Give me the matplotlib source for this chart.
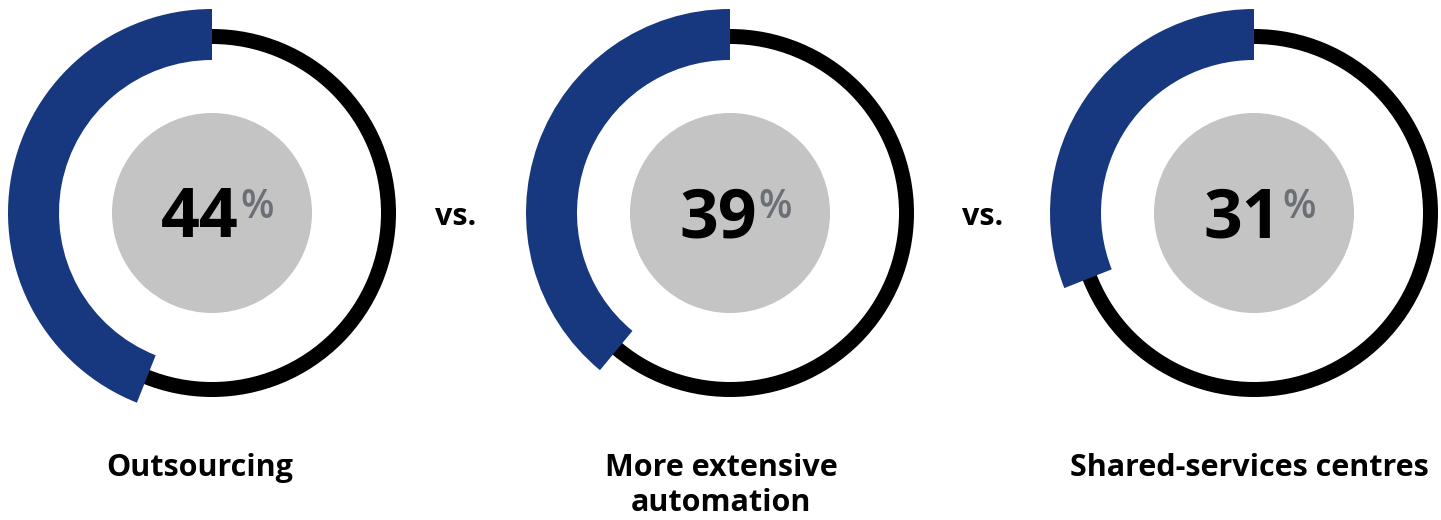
import matplotlib.pyplot as plt
from matplotlib.patches import Wedge, Circle

# --- DATA ---
categories = ["Outsourcing", "More extensive\nautomation", "Shared-services centres"]
shares = [44, 39, 31]
separator = "vs."

# --- STYLE ---
BLUE = "#17387e"
GREY = "#c4c4c4"
PCT_GREY = "#6b6f76"
FONT = "Open Sans"

W, H = 1441, 520
fig = plt.figure(figsize=(W / 100, H / 100), dpi=100)
ax = fig.add_axes([0, 0, 1, 1])
ax.set_xlim(0, W)
ax.set_ylim(H, 0)
ax.set_aspect("equal")
ax.axis("off")

centres_x = [212, 730, 1254]
cy = 213
label_x = [200, 721, 1249]

renderer = fig.canvas.get_renderer()

for cx, lx, name, pct in zip(centres_x, label_x, categories, shares):
    # thin black track
    ax.add_patch(Wedge((cx, cy), 184, 0, 360, width=15, facecolor="black", edgecolor="none"))
    # thick blue arc, starting at 12 o'clock and running counter-clockwise
    # (y axis is inverted, so angles are mirrored)
    ax.add_patch(Wedge((cx, cy), 204, 270 - pct * 3.6, 270, width=51,
                       facecolor=BLUE, edgecolor="none"))
    # grey disc in the middle
    ax.add_patch(Circle((cx, cy), 100, facecolor=GREY, edgecolor="none"))

    num = ax.text(cx - 12, 237, f"{pct}", ha="center", va="baseline",
                  fontsize=49, fontweight="bold", family=FONT, color="black")
    bb = num.get_window_extent(renderer=renderer)
    right = ax.transData.inverted().transform((bb.x1, bb.y0))[0]
    ax.text(right + 2, 218, "%", ha="left", va="baseline",
            fontsize=28, fontweight="semibold", family=FONT, color=PCT_GREY)

    ax.text(lx, 453, name, ha="center", va="top", fontsize=22,
            fontweight="bold", family=FONT, color="black", linespacing=1.2)

for sx in [456, 983]:
    ax.text(sx, 217, separator, ha="center", va="center", fontsize=22,
            fontweight="bold", family=FONT, color="black")

fig.savefig("out.png", dpi=100)
